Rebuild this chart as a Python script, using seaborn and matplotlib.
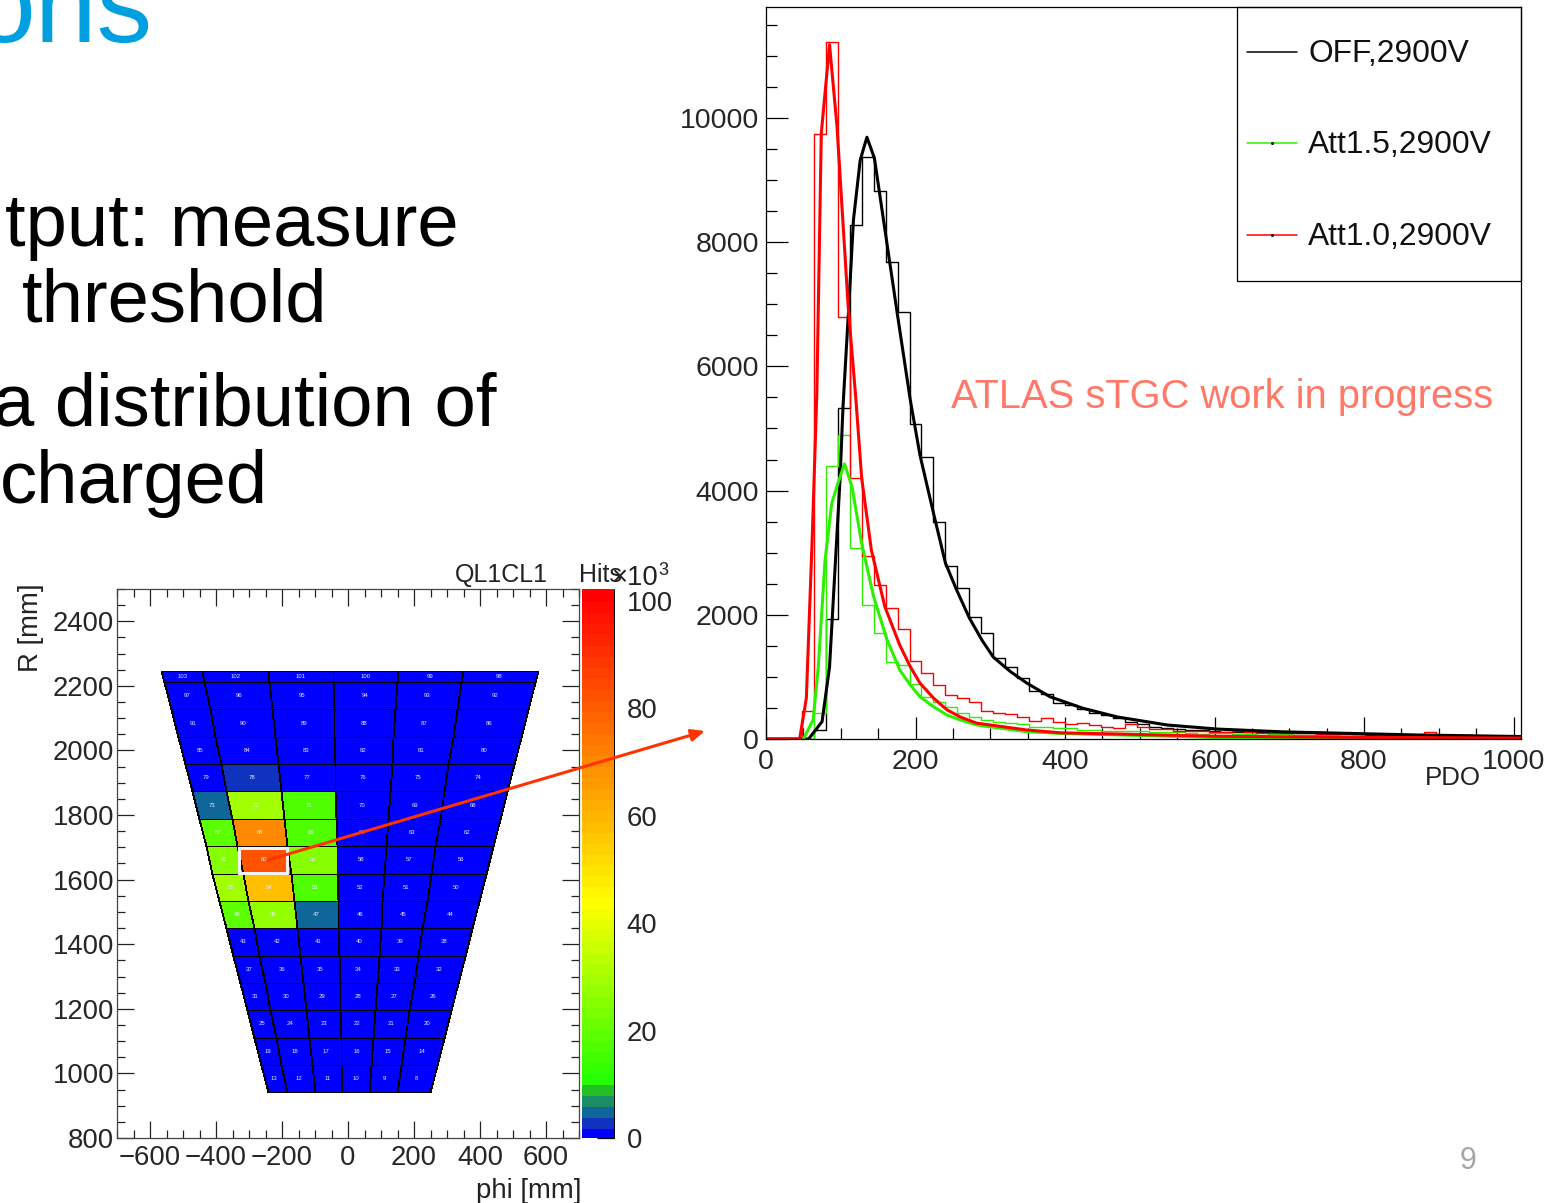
import numpy as np
import seaborn as sns
from matplotlib import pyplot as plt
from matplotlib.colors import LinearSegmentedColormap, Normalize
from matplotlib.patches import Rectangle
from matplotlib.ticker import MultipleLocator

# PDO histograms, 64 bins of width 16
bin_edges = list(range(0, 1025, 16))
off_counts = [0, 0, 0, 0, 145, 1930, 5330, 8277, 9370, 8825, 7680, 6875, 5070, 4545, 3500, 2785,
              2430, 1970, 1700, 1300, 1160, 980, 775, 725, 580, 550, 480, 420, 385, 335, 275, 240,
              190, 175, 165, 150, 140, 135, 120, 115, 110, 105, 100, 95, 90, 90, 85, 80,
              80, 75, 70, 70, 65, 60, 60, 55, 55, 50, 50, 45, 45, 40, 40, 40]
att15_counts = [0, 0, 0, 0, 420, 4395, 4895, 3075, 2160, 1710, 1240, 1190, 885, 680, 600, 515,
                420, 350, 305, 275, 255, 240, 195, 195, 175, 175, 145, 145, 130, 130, 125, 135,
                115, 105, 105, 95, 85, 100, 90, 85, 75, 70, 85, 75, 65, 70, 60, 60,
                55, 70, 55, 50, 50, 45, 60, 45, 40, 45, 40, 35, 40, 30, 30, 30]
att10_counts = [0, 0, 0, 450, 9740, 11220, 6800, 4200, 2940, 2480, 2110, 1770, 1260, 1060, 870, 710,
                660, 600, 450, 420, 400, 355, 290, 335, 275, 240, 255, 225, 195, 175, 240, 195,
                160, 160, 135, 130, 125, 120, 110, 130, 105, 100, 95, 100, 90, 95, 85, 80,
                85, 75, 80, 70, 65, 65, 70, 110, 65, 55, 60, 50, 55, 40, 45, 35]

# fitted curves
off_fit_x = [0, 57, 75, 85, 92, 99, 103, 111, 117, 126, 135, 145, 175, 193, 206, 224, 240, 255, 272, 289, 304,
             327, 349, 380, 424, 470, 537, 604, 692, 782, 871, 1010]
off_fit_y = [0, 0, 280, 1160, 2670, 4170, 5350, 7020, 8360, 9320, 9690, 9355, 6900, 5460, 4570, 3640, 2835,
             2400, 1950, 1590, 1320, 1085, 900, 680, 495, 355, 225, 160, 115, 90, 65, 40]
att15_fit_x = [50, 63, 70, 79, 88, 97, 105, 115, 128, 144, 162, 179, 193, 206, 224, 242, 260, 282, 349, 394,
               600, 800, 1010]
att15_fit_y = [0, 306, 1165, 2880, 3795, 4145, 4430, 4065, 3150, 2290, 1595, 1110, 870, 680, 520, 386, 306, 225,
               118, 90, 25, 10, 5]
att10_fit_x = [0, 45, 54, 62, 68, 74, 85, 95, 110, 120, 128, 141, 159, 179, 193, 206, 224, 242, 260, 282, 349,
               394, 600, 800, 1010]
att10_fit_y = [0, 0, 660, 3300, 5570, 9760, 11180, 9860, 6950, 5510, 4200, 3040, 2130, 1510, 1165, 900, 660, 470,
               354, 255, 145, 100, 45, 25, 15]

# detector map: strip edges in R, wire edges along the top and bottom of the trapezoid
r_edges = [942, 1027, 1111, 1196, 1281, 1365, 1450, 1535, 1619, 1704, 1789, 1873, 1958, 2043, 2127, 2212, 2246]
phi_edges_bottom = [-243, -185, -100, -18, 65, 147, 249]
phi_edges_top = [-566, -443, -243, -46, 151, 348, 575]

# hits (x10^3), bottom row first
hits = [
    [0, 0, 0, 0, 0, 0],
    [0, 0, 0, 0, 0, 0],
    [0, 0, 0, 0, 0, 0],
    [0, 0, 0, 0, 0, 0],
    [0, 0, 0, 0, 0, 0],
    [0, 0, 0, 0, 0, 0],
    [20, 27, 5, 0, 0, 0],
    [30, 58, 17, 0, 0, 0],
    [25, 83, 25, 0, 0, 0],
    [20, 70, 17, 0, 0, 0],
    [5, 30, 17, 0, 0, 0],
    [0, 3, 0, 0, 0, 0],
    [0, 0, 0, 0, 0, 0],
    [0, 0, 0, 0, 0, 0],
    [0, 0, 0, 0, 0, 0],
    [0, 0, 0, 0, 0, 0],
]

map_xticks = [-600, -400, -200, 0, 200, 400, 600]
map_yticks = [800, 1000, 1200, 1400, 1600, 1800, 2000, 2200, 2400]
cbar_ticks = [0, 20, 40, 60, 80, 100]
pdo_xticks = [0, 200, 400, 600, 800, 1000]
pdo_yticks = [0, 2000, 4000, 6000, 8000, 10000]
legend_labels = ["OFF,2900V", "Att1.5,2900V", "Att1.0,2900V"]

BLACK, GREEN, RED = "#000000", "#2cf000", "#ff0000"
W, H = 1567, 1203

sns.set_style("white")
plt.rcParams["font.family"] = ["Liberation Sans", "DejaVu Sans"]
plt.rcParams["axes.linewidth"] = 0.9


def px_axes(fig, left, top, right, bottom):
    return fig.add_axes([left / W, 1 - bottom / H, (right - left) / W, (bottom - top) / H])


fig = plt.figure(figsize=(W / 100, H / 100), dpi=100, facecolor="white")

# right panel
ax = px_axes(fig, 766, 7, 1521, 739)
centers = [edge + 8 for edge in bin_edges[:-1]]
for counts, color in [(off_counts, BLACK), (att15_counts, GREEN), (att10_counts, RED)]:
    sns.histplot(x=centers, weights=counts, bins=bin_edges, element="step", fill=False,
                 color=color, linewidth=1.0, ax=ax)
for fit_x, fit_y, color in [(off_fit_x, off_fit_y, BLACK), (att15_fit_x, att15_fit_y, GREEN),
                            (att10_fit_x, att10_fit_y, RED)]:
    sns.lineplot(x=fit_x, y=fit_y, estimator=None, sort=False, color=color, linewidth=2.2, ax=ax)
ax.set_xlim(0, 1010)
ax.set_ylim(0, 11787)
ax.set_xlabel("")
ax.set_ylabel("")
ax.set_xticks(pdo_xticks)
ax.set_yticks(pdo_yticks)
ax.xaxis.set_minor_locator(MultipleLocator(50))
ax.yaxis.set_minor_locator(MultipleLocator(500))
ax.tick_params(which="major", direction="in", length=16, width=0.9, color="black", labelsize=20.5,
               bottom=True, left=True)
ax.tick_params(which="minor", direction="in", length=8, width=0.9, color="black", bottom=True, left=True)
ax.tick_params(axis="x", pad=7)
ax.tick_params(axis="y", pad=5)
for spine in ax.spines.values():
    spine.set_color("black")

# left panel
map_ax = px_axes(fig, 117, 589, 579, 1138)
r_arr = np.array(r_edges, dtype=float)
frac = ((r_arr - r_arr[0]) / (r_arr[-1] - r_arr[0]))[:, None]
phi_grid = np.array(phi_edges_bottom) + (np.array(phi_edges_top) - np.array(phi_edges_bottom)) * frac
r_grid = np.repeat(r_arr[:, None], 7, axis=1)

# ROOT palette: five dark low bands, then green through yellow to red
cmap = LinearSegmentedColormap.from_list("root_hits", [
    (0.0, (0, 0, 1)),
    (1 / 49, (0.06, 0.2, 0.75)),
    (2 / 49, (0.06, 0.4, 0.6)),
    (3 / 49, (0.1, 0.55, 0.4)),
    (4 / 49, (0.14, 0.75, 0.14)),
    (5 / 49, (0.15, 1, 0)),
    (21 / 49, (1, 1, 0)),
    (1.0, (1, 0, 0)),
], N=50)
norm = Normalize(0, 102.2)
mesh = map_ax.pcolormesh(phi_grid, r_grid, np.array(hits), cmap=cmap, norm=norm,
                         edgecolors="black", linewidth=0.6)
for i in range(16):
    for j in range(6):
        map_ax.text(phi_grid[i:i + 2, j:j + 2].mean(), r_grid[i:i + 2, j:j + 2].mean(),
                    str(13 + 6 * i - j), color="#e8e8ff", fontsize=4.3, ha="center", va="center")
map_ax.set_xlim(-700, 700)
map_ax.set_ylim(800, 2500)
map_ax.set_xticks(map_xticks)
map_ax.set_yticks(map_yticks)
map_ax.xaxis.set_minor_locator(MultipleLocator(50))
map_ax.yaxis.set_minor_locator(MultipleLocator(50))
map_ax.tick_params(which="major", direction="in", length=12, width=0.9, color="#222222", labelsize=19.8,
                   bottom=True, left=True, top=True, right=True)
map_ax.tick_params(which="minor", direction="in", length=6, width=0.9, color="#222222",
                   bottom=True, left=True, top=True, right=True)
map_ax.tick_params(axis="x", pad=5)
map_ax.tick_params(axis="y", pad=2)
for spine in map_ax.spines.values():
    spine.set_color("#444444")

cax = px_axes(fig, 582, 589, 614, 1138)
cbar = fig.colorbar(mesh, cax=cax, ticks=cbar_ticks)
cbar.outline.set_visible(False)
cbar.solids.set_edgecolor("face")
cax.tick_params(which="major", direction="in", length=12, width=0.9, color="black", labelsize=19.8,
                right=True, pad=9)
cax.minorticks_off()

# everything else is slide furniture placed in pixels
over = fig.add_axes([0, 0, 1, 1], facecolor="none", zorder=10)
over.set_xlim(0, W)
over.set_ylim(H, 0)
over.set_axis_off()

over.text(152, 42, "ons", color="#00a0e0", fontsize=80, ha="right", va="baseline")
for x, y, line in [(5, 246, "tput: measure"), (22, 322, "threshold"),
                   (-7, 426, "a distribution of"), (0, 503, "charged")]:
    over.text(x, y, line, color="black", fontsize=53.5, va="baseline")
over.text(1468, 1169, "9", color="#a6a6a6", fontsize=22, ha="center", va="baseline")

over.text(455, 582, "QL1CL1", fontsize=18, color="#222222", va="baseline")
over.text(579, 582, "Hits", fontsize=18, color="#222222", va="baseline")
over.text(611, 585, "\u00d710", fontsize=19.8, color="#222222", va="baseline")
over.text(658, 575, "3", fontsize=13, color="#222222", va="baseline")
over.text(31, 672, "R [mm]", fontsize=19.8, color="#222222", rotation=90, ha="center", va="bottom")
over.text(582, 1198, "phi [mm]", fontsize=19.8, color="#222222", ha="right", va="baseline")
over.text(1481, 785, "PDO", fontsize=18.6, color="#222222", ha="right", va="baseline")
over.text(951, 408, "ATLAS sTGC work in progress", fontsize=28.7, color="#ff7868", va="baseline")

over.add_patch(Rectangle((1237, 7), 284, 274, fill=False, edgecolor="black", linewidth=0.9))
for y, label, color in zip([52, 143, 235], legend_labels, [BLACK, GREEN, RED]):
    over.plot([1247, 1297], [y, y], color=color, linewidth=1.1)
    if color != BLACK:
        over.plot([1272], [y], marker="s", markersize=1, color="black")
    over.text(1308, y + 10, label, fontsize=22.9, color="#111111", va="baseline")

over.plot([614, 614], [589, 1138], color="black", linewidth=0.7)
over.add_patch(Rectangle((239, 848), 48, 25, fill=False, edgecolor="#f2f2f2", linewidth=2.2))
over.annotate("", xy=(705, 731), xytext=(268, 860),
              arrowprops=dict(arrowstyle="-|>,head_length=0.8,head_width=0.35", color="#ff3200",
                              linewidth=2.2, shrinkA=0, shrinkB=0))

fig.savefig("out.png", dpi=100)
